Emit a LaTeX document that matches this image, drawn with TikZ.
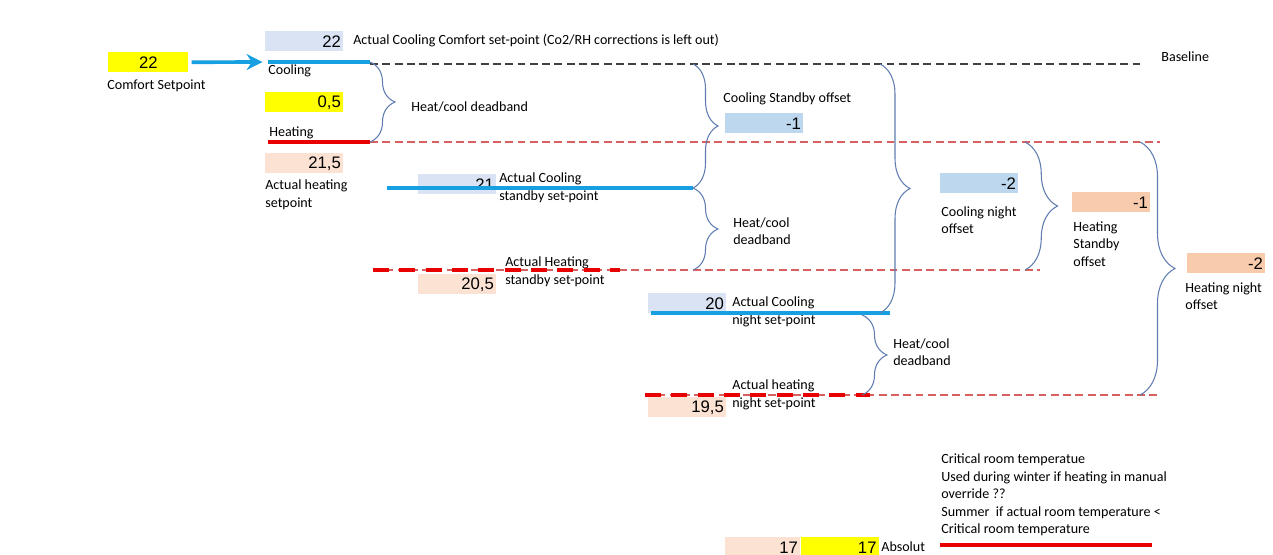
\documentclass[tikz,border=0pt]{standalone}
\usepackage{fontspec}
\setmainfont{Carlito}
\newfontfamily\numfont{Liberation Sans}
\usetikzlibrary{positioning, decorations.pathreplacing, arrows.meta}

\definecolor{spyellow}{HTML}{FFFF00}
\definecolor{splav}{HTML}{DAE3F3}
\definecolor{spblue}{HTML}{BDD7EE}
\definecolor{sppeach}{HTML}{FBE2D3}
\definecolor{spsalmon}{HTML}{F8CBAD}
\definecolor{coolline}{RGB}{22,160,225}
\definecolor{heatline}{RGB}{232,0,0}
\definecolor{heatdash}{RGB}{215,95,95}
\definecolor{bracecol}{RGB}{95,125,175}

\begin{document}
\begin{tikzpicture}[x=0.02cm, y=-0.02cm,
    every node/.style={font=\fontsize{8}{10}\selectfont, inner sep=0pt},
    valbox/.style={anchor=north west, minimum height=0.4cm, text width=1.46cm, inner xsep=0.05cm, align=right, font=\numfont\fontsize{9.5}{11}\selectfont},
    lbl/.style={anchor=west, align=left},
    coolset/.style={draw=coolline, line width=2.1pt},
    heatset/.style={draw=heatline, line width=2.2pt},
    heatstep/.style={draw=heatline, line width=2.4pt, dash pattern=on 9pt off 6pt},
    heatgap/.style={draw=heatdash, line width=0.7pt, dash pattern=on 4.5pt off 2.5pt},
    basegap/.style={draw=black!75, line width=0.7pt, dash pattern=on 4.5pt off 2.5pt},
    brc/.style={draw=bracecol, line width=0.6pt, decorate, decoration={brace, amplitude=#1}},
    brc/.default=0.5cm,
    >=Stealth]

\useasboundingbox (0,0) rectangle (1273,554);

% Comfort setpoint
\node[valbox, fill=spyellow, minimum width=1.6cm, text width=1.5cm, align=center] (cs) at (108,52) {22};
\node[below right=0.13cm and -0.02cm of cs.south west] (csl) {Comfort Setpoint};

% Comfort values
\node[valbox, fill=splav] (v22) at (265,31) {22};
\node[lbl] (v22l) at (353,41) {Actual Cooling Comfort set-point (Co2/RH corrections is left out)};
\node[valbox, fill=spyellow] (v05) at (265,92) {0,5};
\node[valbox, fill=sppeach] (v215) at (265,153) {21,5};
\node[lbl] (v215l) at (265,195) {Actual heating\\setpoint};
\node[lbl] (cooll) at (268,71) {Cooling};
\node[lbl] (heatl) at (269,133) {Heating};
\node[lbl] (baseL) at (1161,57) {Baseline};

% Standby values
\node[valbox, fill=splav] (v21) at (418,174) {21};
\node[lbl] (v21l) at (499,188) {Actual Cooling\\standby set-point};
\node[valbox, fill=sppeach] (v205) at (418,274) {20,5};
\node[lbl] (v205l) at (505,272) {Actual Heating\\standby set-point};

% Night values
\node[valbox, fill=splav] (v20) at (648,293) {20};
\node[lbl] (v20l) at (732,312) {Actual Cooling\\night set-point};
\node[valbox, fill=sppeach] (v195) at (648,397) {19,5};
\node[lbl] (v195l) at (732,395) {Actual heating\\night set-point};

% Offsets
\node[lbl] (dbA) at (411,107) {Heat/cool deadband};
\node[lbl] (csoL) at (723,99) {Cooling Standby offset};
\node[valbox, fill=spblue] (cso) at (725,113) {-1};
\node[lbl] (dbB) at (733,231) {Heat/cool\\deadband};
\node[valbox, fill=spblue] (cno) at (940,173) {-2};
\node[lbl] (cnoL) at (941,220) {Cooling night\\offset};
\node[valbox, fill=spsalmon] (hso) at (1072,192) {-1};
\node[lbl] (hsoL) at (1073,244) {Heating\\Standby\\offset};
\node[valbox, fill=spsalmon] (hno) at (1187,253) {-2};
\node[lbl] (hnoL) at (1185,296) {Heating night\\offset};
\node[lbl] (dbC) at (893,352) {Heat/cool\\deadband};

% Critical room temperature
\node[valbox, fill=sppeach, minimum width=1.5cm, text width=1.4cm] (v17a) at (725,537) {17};
\node[valbox, fill=spyellow] (v17b) at (v17a.north east) {17};
\node[lbl] (absl) at (881,547) {Absolut};
\node[lbl] (crit) at (941,495) {Critical room temperatue\\Used during winter if heating in manual\\override ??\\Summer\ \ if actual room temperature <\\Critical room temperature};

% line end points
\coordinate (c1s) at (268,62); \coordinate (c1e) at (370,62);
\coordinate (h1s) at (268,142); \coordinate (h1e) at (370,142);
\coordinate (blS) at (370,64); \coordinate (blE) at (1140,64);
\coordinate (h1d) at (1160,142);
\coordinate (c2s) at (387,188); \coordinate (c2e) at (693,188);
\coordinate (h2s) at (373,270); \coordinate (h2e) at (620,270);
\coordinate (h2d) at (1040,270);
\coordinate (c3s) at (651,313); \coordinate (c3e) at (890,313);
\coordinate (h3s) at (645,395); \coordinate (h3e) at (870,395);
\coordinate (h3d) at (1160,395);
\coordinate (crS) at (940,545); \coordinate (crE) at (1152,545);

% brace end points
\coordinate (bl2) at (693,64);
\coordinate (h2b) at (693,270);
\coordinate (bl4) at (880,64); \coordinate (c3b) at (880,313);
\coordinate (h1f) at (1025,142); \coordinate (h2f) at (1025,270);
\coordinate (h1g) at (1140,142); \coordinate (h3g) at (1140,395);
\coordinate (c3g) at (862,315); \coordinate (h3b) at (862,395);

% dashed guide lines
\draw[basegap] (blS) -- (blE);
\draw[heatgap] (h1e) -- (h1d);
\draw[heatgap] (h2s) -- (h2d);
\draw[heatgap] (h3s) -- (h3d);

% set-point lines
\draw[coolset, ->, >={Stealth[length=9pt, width=9pt]}, shorten >=0.11cm, shorten <=0.06cm] (cs) -- (c1s);
\draw[coolset] (c1s) -- (c1e);
\draw[heatset] (h1s) -- (h1e);
\draw[coolset] (c2s) -- (c2e);
\draw[heatstep] (h2s) -- (h2e);
\draw[coolset] (c3s) -- (c3e);
\draw[heatstep] (h3s) -- (h3e);
\draw[heatset] (crS) -- (crE);

% braces
\draw[brc] (c1e) -- (h1e);
\draw[brc] (bl2) -- (c2e);
\draw[brc] (c2e) -- (h2b);
\draw[brc=0.6cm] (bl4) -- (c3b);
\draw[brc=0.65cm] (h1f) -- (h2f);
\draw[brc=0.7cm] (h1g) -- (h3g);
\draw[brc] (c3g) -- (h3b);

\end{tikzpicture}
\end{document}
